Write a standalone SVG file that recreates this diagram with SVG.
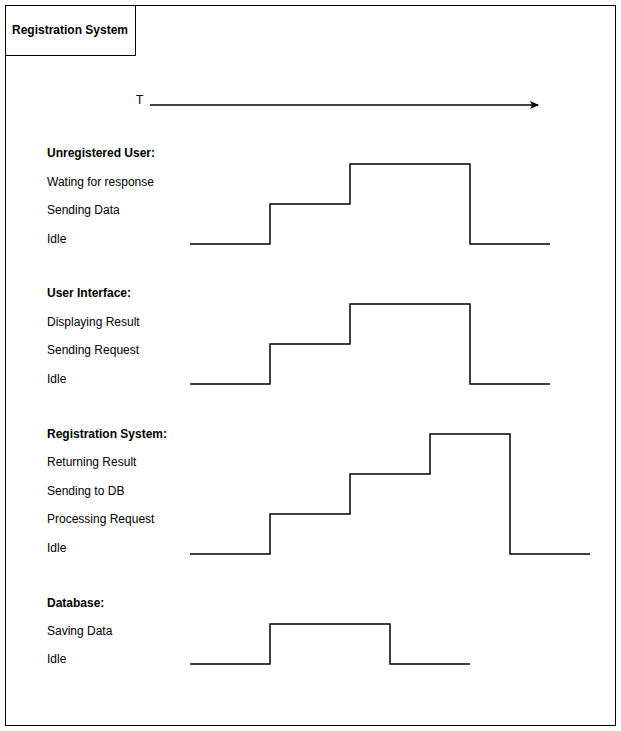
<svg xmlns="http://www.w3.org/2000/svg" width="621" height="731" viewBox="0 0 621 731">
<defs>
<style>
text{font-family:"Liberation Sans",Arial,sans-serif;font-size:12px;fill:#000}
.b{font-weight:bold}
.w{fill:none;stroke:#000;stroke-width:1.5}
.f{fill:none;stroke:#000;stroke-width:1}
</style>
<marker id="ah" markerWidth="10" markerHeight="10" refX="8" refY="5" orient="auto" markerUnits="userSpaceOnUse">
<path d="M0,1 L9,5 L0,9 L2,5 Z" fill="#000"/>
</marker>
</defs>
<rect width="621" height="731" fill="#fff"/>
<g id="frame">
<rect class="f" x="5.5" y="5.5" width="610" height="720"/>
<path class="f" d="M5.5 55.5 H135.5 V5.5"/>
<text class="b" x="12" y="34">Registration System</text>
</g>
<g id="time-axis">
<text x="136" y="104">T</text>
</g>
<g id="unregistered-user">
<text class="b" x="47" y="157">Unregistered User:</text>
<text x="47" y="186">Wating for response</text>
<text x="47" y="214">Sending Data</text>
<text x="47" y="243">Idle</text>
</g>
<g id="user-interface">
<text class="b" x="47" y="297">User Interface:</text>
<text x="47" y="326">Displaying Result</text>
<text x="47" y="354">Sending Request</text>
<text x="47" y="383">Idle</text>
</g>
<g id="registration-system">
<text class="b" x="47" y="438">Registration System:</text>
<text x="47" y="466">Returning Result</text>
<text x="47" y="495">Sending to DB</text>
<text x="47" y="523">Processing Request</text>
<text x="47" y="552">Idle</text>
</g>
<g id="database">
<text class="b" x="47" y="607">Database:</text>
<text x="47" y="635">Saving Data</text>
<text x="47" y="663">Idle</text>
</g>
<g id="connectors">
<path class="w" d="M150 105 H538" marker-end="url(#ah)"/>
<path class="w" d="M190 244 H270 V204 H350 V164 H470 V244 H550"/>
<path class="w" d="M190 384 H270 V344 H350 V304 H470 V384 H550"/>
<path class="w" d="M190 554 H270 V514 H350 V474 H430 V434 H510 V554 H590"/>
<path class="w" d="M190 664 H270 V624 H390 V664 H470"/>
</g>
</svg>
